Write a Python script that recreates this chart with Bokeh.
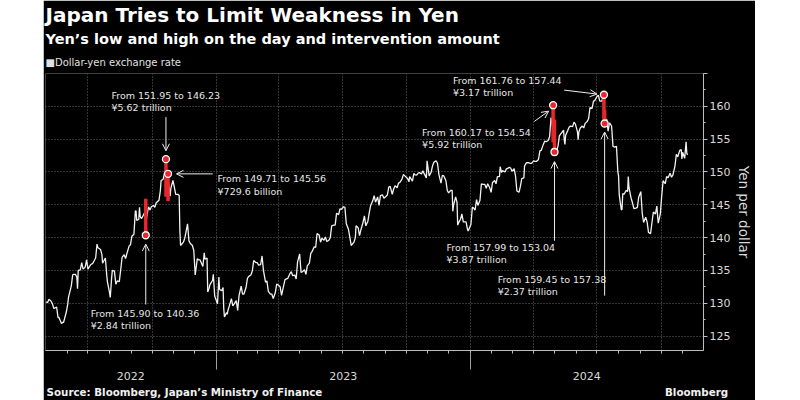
import pandas as pd
from bokeh.plotting import figure
from bokeh.models import (Range1d, FixedTicker, Label, Arrow, OpenHead, ColumnDataSource, Spacer,
                          LinearAxis, Title)
from bokeh.layouts import row
from bokeh.embed import file_html
from bokeh.resources import INLINE

# ---------------- data ----------------
series_2022 = [
    ("2022-05-02", 130.2), ("2022-05-04", 130.1), ("2022-05-06", 130.6), ("2022-05-09", 130.3),
    ("2022-05-11", 129.9), ("2022-05-13", 129.2), ("2022-05-17", 129.4), ("2022-05-19", 127.8),
    ("2022-05-20", 127.9), ("2022-05-24", 126.9), ("2022-05-26", 127.1), ("2022-05-27", 127.1),
    ("2022-05-31", 128.7), ("2022-06-02", 129.9), ("2022-06-03", 130.9), ("2022-06-07", 132.6),
    ("2022-06-09", 134.3), ("2022-06-10", 134.4), ("2022-06-13", 134.4), ("2022-06-15", 134.0),
    ("2022-06-16", 132.2), ("2022-06-17", 135.0), ("2022-06-20", 135.1), ("2022-06-22", 136.2),
    ("2022-06-24", 135.2), ("2022-06-27", 135.5), ("2022-06-29", 136.6), ("2022-07-01", 135.2),
    ("2022-07-05", 135.9), ("2022-07-07", 136.0), ("2022-07-08", 136.1), ("2022-07-12", 136.9),
    ("2022-07-14", 139.0), ("2022-07-15", 138.5), ("2022-07-19", 138.2), ("2022-07-21", 137.4),
    ("2022-07-22", 136.1), ("2022-07-26", 136.9), ("2022-07-28", 134.2), ("2022-07-29", 133.2),
    ("2022-08-01", 131.6), ("2022-08-02", 130.9), ("2022-08-04", 133.9), ("2022-08-05", 135.0),
    ("2022-08-08", 134.9), ("2022-08-10", 132.9), ("2022-08-12", 133.4), ("2022-08-15", 133.3),
    ("2022-08-17", 135.1), ("2022-08-19", 137.0), ("2022-08-22", 137.4), ("2022-08-24", 136.8),
    ("2022-08-26", 137.6), ("2022-08-29", 138.7), ("2022-08-31", 138.9), ("2022-09-02", 140.2),
    ("2022-09-05", 140.5), ("2022-09-07", 144.0), ("2022-09-08", 144.1), ("2022-09-09", 142.6),
    ("2022-09-12", 142.8), ("2022-09-13", 144.6), ("2022-09-14", 143.2), ("2022-09-16", 142.9),
    ("2022-09-20", 143.7), ("2022-09-21", 144.1), ("2022-09-22", 142.4), ("2022-09-26", 144.7),
    ("2022-09-28", 144.2), ("2022-09-30", 144.7), ("2022-10-03", 144.9), ("2022-10-05", 144.6),
    ("2022-10-07", 145.3), ("2022-10-11", 145.7), ("2022-10-13", 147.2), ("2022-10-14", 148.7),
    ("2022-10-17", 148.9), ("2022-10-19", 149.9), ("2022-10-20", 150.2), ("2022-10-21", 147.6),
    ("2022-10-24", 148.9), ("2022-10-25", 148.0), ("2022-10-27", 146.3), ("2022-10-28", 147.5),
    ("2022-10-31", 148.7), ("2022-11-02", 147.7), ("2022-11-04", 146.6), ("2022-11-07", 146.6),
    ("2022-11-09", 146.4), ("2022-11-10", 141.0), ("2022-11-11", 138.8), ("2022-11-15", 139.3),
    ("2022-11-17", 139.9), ("2022-11-18", 140.4), ("2022-11-21", 142.1), ("2022-11-23", 139.5),
    ("2022-11-25", 139.1), ("2022-11-28", 138.8), ("2022-11-30", 138.0), ("2022-12-02", 134.3),
    ("2022-12-05", 136.8), ("2022-12-07", 136.6), ("2022-12-09", 136.6), ("2022-12-13", 135.6),
    ("2022-12-15", 137.7), ("2022-12-16", 136.7), ("2022-12-19", 136.9), ("2022-12-20", 131.7),
    ("2022-12-22", 132.3), ("2022-12-23", 132.8), ("2022-12-27", 133.5), ("2022-12-28", 134.4),
    ("2022-12-30", 131.1),
]
series_2023 = [
    ("2023-01-03", 129.9), ("2023-01-05", 134.0), ("2023-01-06", 132.1), ("2023-01-09", 131.9),
    ("2023-01-11", 132.4), ("2023-01-12", 129.2), ("2023-01-13", 127.9), ("2023-01-16", 128.6),
    ("2023-01-17", 128.3), ("2023-01-18", 128.9), ("2023-01-20", 129.6), ("2023-01-23", 130.7),
    ("2023-01-25", 129.6), ("2023-01-27", 129.9), ("2023-01-30", 130.4), ("2023-02-01", 128.9),
    ("2023-02-03", 131.2), ("2023-02-06", 132.6), ("2023-02-08", 131.4), ("2023-02-10", 131.4),
    ("2023-02-13", 132.4), ("2023-02-15", 133.8), ("2023-02-17", 134.1), ("2023-02-20", 134.3),
    ("2023-02-22", 134.9), ("2023-02-24", 136.5), ("2023-02-27", 136.2), ("2023-03-01", 136.2),
    ("2023-03-03", 135.8), ("2023-03-06", 135.9), ("2023-03-08", 137.2), ("2023-03-10", 135.0),
    ("2023-03-13", 133.2), ("2023-03-15", 133.4), ("2023-03-17", 131.8), ("2023-03-20", 131.4),
    ("2023-03-22", 131.4), ("2023-03-24", 130.7), ("2023-03-27", 131.6), ("2023-03-29", 132.9),
    ("2023-03-31", 132.8), ("2023-04-03", 132.5), ("2023-04-05", 131.2), ("2023-04-07", 132.2),
    ("2023-04-10", 133.6), ("2023-04-12", 133.7), ("2023-04-14", 133.8), ("2023-04-17", 134.5),
    ("2023-04-19", 134.8), ("2023-04-21", 134.2), ("2023-04-24", 134.3), ("2023-04-26", 133.7),
    ("2023-04-28", 136.3), ("2023-05-01", 137.5), ("2023-05-03", 134.7), ("2023-05-05", 134.8),
    ("2023-05-08", 135.1), ("2023-05-10", 134.4), ("2023-05-12", 135.7), ("2023-05-15", 136.1),
    ("2023-05-17", 137.6), ("2023-05-19", 137.9), ("2023-05-22", 138.6), ("2023-05-24", 138.5),
    ("2023-05-26", 140.6), ("2023-05-29", 140.4), ("2023-05-31", 139.3), ("2023-06-02", 139.9),
    ("2023-06-05", 139.6), ("2023-06-07", 140.1), ("2023-06-09", 139.4), ("2023-06-12", 139.6),
    ("2023-06-14", 140.0), ("2023-06-16", 141.8), ("2023-06-19", 141.9), ("2023-06-21", 141.9),
    ("2023-06-23", 143.7), ("2023-06-26", 143.5), ("2023-06-28", 144.4), ("2023-06-30", 144.3),
    ("2023-07-03", 144.7), ("2023-07-05", 144.6), ("2023-07-07", 142.1), ("2023-07-10", 141.3),
    ("2023-07-12", 140.1), ("2023-07-14", 138.8), ("2023-07-18", 139.3), ("2023-07-20", 140.0),
    ("2023-07-21", 141.8), ("2023-07-24", 141.5), ("2023-07-26", 140.3), ("2023-07-28", 141.2),
    ("2023-07-31", 142.3), ("2023-08-02", 143.3), ("2023-08-04", 141.8), ("2023-08-07", 142.5),
    ("2023-08-09", 143.8), ("2023-08-11", 144.9), ("2023-08-14", 145.6), ("2023-08-16", 146.4),
    ("2023-08-18", 145.4), ("2023-08-21", 146.2), ("2023-08-23", 144.9), ("2023-08-25", 146.4),
    ("2023-08-28", 146.5), ("2023-08-30", 146.0), ("2023-09-01", 146.2), ("2023-09-04", 146.5),
    ("2023-09-06", 147.7), ("2023-09-08", 147.8), ("2023-09-11", 146.6), ("2023-09-13", 147.4),
    ("2023-09-15", 147.9), ("2023-09-18", 147.6), ("2023-09-20", 148.3), ("2023-09-22", 148.4),
    ("2023-09-25", 148.9), ("2023-09-27", 149.6), ("2023-09-29", 149.4), ("2023-10-03", 149.0),
    ("2023-10-05", 148.5), ("2023-10-06", 149.3), ("2023-10-10", 148.6), ("2023-10-12", 149.8),
    ("2023-10-13", 149.6), ("2023-10-16", 149.5), ("2023-10-18", 149.8), ("2023-10-20", 149.9),
    ("2023-10-23", 149.7), ("2023-10-25", 150.2), ("2023-10-27", 149.7), ("2023-10-30", 149.1),
    ("2023-10-31", 151.7), ("2023-11-01", 150.9), ("2023-11-03", 149.4), ("2023-11-06", 150.0),
    ("2023-11-08", 151.0), ("2023-11-10", 151.5), ("2023-11-13", 151.7), ("2023-11-15", 151.3),
    ("2023-11-17", 149.6), ("2023-11-20", 148.3), ("2023-11-22", 149.5), ("2023-11-24", 149.4),
    ("2023-11-27", 148.7), ("2023-11-29", 147.2), ("2023-12-01", 146.8), ("2023-12-04", 147.2),
    ("2023-12-06", 147.2), ("2023-12-07", 144.0), ("2023-12-08", 144.9), ("2023-12-11", 146.2),
    ("2023-12-13", 145.4), ("2023-12-14", 141.9), ("2023-12-15", 142.2), ("2023-12-18", 142.8),
    ("2023-12-20", 143.6), ("2023-12-22", 142.4), ("2023-12-26", 142.4), ("2023-12-28", 141.3),
    ("2023-12-29", 141.0),
]
series_2024 = [
    ("2024-01-02", 142.0), ("2024-01-04", 144.6), ("2024-01-05", 144.6), ("2024-01-08", 144.2),
    ("2024-01-10", 145.8), ("2024-01-12", 144.9), ("2024-01-15", 145.7), ("2024-01-17", 148.2),
    ("2024-01-19", 148.1), ("2024-01-22", 148.1), ("2024-01-24", 147.5), ("2024-01-26", 148.2),
    ("2024-01-29", 147.6), ("2024-01-31", 146.9), ("2024-02-02", 148.4), ("2024-02-05", 148.7),
    ("2024-02-07", 148.2), ("2024-02-09", 149.3), ("2024-02-12", 149.3), ("2024-02-13", 150.8),
    ("2024-02-15", 149.9), ("2024-02-16", 150.2), ("2024-02-20", 150.0), ("2024-02-22", 150.5),
    ("2024-02-23", 150.5), ("2024-02-26", 150.7), ("2024-02-28", 150.6), ("2024-03-01", 150.1),
    ("2024-03-04", 150.5), ("2024-03-06", 149.4), ("2024-03-08", 147.1), ("2024-03-11", 146.9),
    ("2024-03-13", 147.8), ("2024-03-15", 149.0), ("2024-03-18", 149.1), ("2024-03-19", 150.9),
    ("2024-03-21", 151.3), ("2024-03-22", 151.4), ("2024-03-25", 151.4), ("2024-03-27", 151.3),
    ("2024-03-29", 151.3), ("2024-04-01", 151.7), ("2024-04-03", 151.6), ("2024-04-05", 151.6),
    ("2024-04-08", 151.9), ("2024-04-10", 153.2), ("2024-04-12", 153.3), ("2024-04-15", 154.2),
    ("2024-04-17", 154.7), ("2024-04-19", 154.6), ("2024-04-22", 154.8), ("2024-04-24", 155.4),
    ("2024-04-26", 158.3), ("2024-04-29", 156.3), ("2024-04-30", 157.8), ("2024-05-01", 155.0),
    ("2024-05-02", 153.0), ("2024-05-03", 152.9), ("2024-05-06", 153.9), ("2024-05-08", 155.5),
    ("2024-05-10", 155.8), ("2024-05-13", 156.2), ("2024-05-14", 156.4), ("2024-05-15", 154.9),
    ("2024-05-16", 154.2), ("2024-05-17", 155.6), ("2024-05-20", 156.3), ("2024-05-22", 156.8),
    ("2024-05-24", 157.0), ("2024-05-27", 156.9), ("2024-05-29", 157.6), ("2024-05-31", 157.3),
    ("2024-06-03", 156.1), ("2024-06-04", 154.9), ("2024-06-05", 156.1), ("2024-06-07", 156.7),
    ("2024-06-10", 157.0), ("2024-06-12", 156.7), ("2024-06-14", 157.4), ("2024-06-17", 157.7),
    ("2024-06-19", 158.1), ("2024-06-21", 159.8), ("2024-06-24", 159.7), ("2024-06-26", 160.8),
    ("2024-06-28", 160.9), ("2024-07-01", 161.5), ("2024-07-03", 161.7), ("2024-07-05", 160.8),
    ("2024-07-08", 160.8), ("2024-07-10", 161.6), ("2024-07-11", 158.9), ("2024-07-12", 157.9),
    ("2024-07-15", 158.0), ("2024-07-17", 156.2), ("2024-07-19", 157.5), ("2024-07-22", 157.0),
    ("2024-07-24", 153.9), ("2024-07-26", 153.8), ("2024-07-29", 153.9), ("2024-07-31", 150.0),
    ("2024-08-01", 149.4), ("2024-08-02", 146.5), ("2024-08-05", 144.2), ("2024-08-06", 144.3),
    ("2024-08-07", 146.7), ("2024-08-09", 146.6), ("2024-08-12", 147.2), ("2024-08-14", 147.0),
    ("2024-08-15", 149.3), ("2024-08-16", 147.6), ("2024-08-19", 146.0), ("2024-08-21", 145.3),
    ("2024-08-23", 144.4), ("2024-08-26", 144.5), ("2024-08-28", 144.6), ("2024-08-30", 146.2),
    ("2024-09-02", 147.0), ("2024-09-04", 143.7), ("2024-09-06", 142.3), ("2024-09-09", 143.1),
    ("2024-09-11", 142.4), ("2024-09-13", 140.8), ("2024-09-16", 140.6), ("2024-09-18", 142.3),
    ("2024-09-20", 143.9), ("2024-09-23", 143.6), ("2024-09-25", 144.8), ("2024-09-27", 142.2),
    ("2024-09-30", 143.6), ("2024-10-02", 146.4), ("2024-10-04", 148.7), ("2024-10-07", 148.2),
    ("2024-10-09", 149.3), ("2024-10-11", 149.1), ("2024-10-14", 149.8), ("2024-10-16", 149.2),
    ("2024-10-18", 149.5), ("2024-10-21", 150.9), ("2024-10-23", 152.7), ("2024-10-25", 152.3),
    ("2024-10-28", 153.3), ("2024-10-30", 153.4), ("2024-10-31", 152.0), ("2024-11-01", 153.0),
    ("2024-11-04", 152.1), ("2024-11-06", 154.6), ("2024-11-07", 152.9), ("2024-11-08", 152.6),
]

int_dates = ["2022-09-22", "2022-10-21", "2022-10-24", "2024-04-29", "2024-05-01", "2024-07-11", "2024-07-12"]
int_from = [145.90, 151.95, 149.71, 160.17, 157.99, 161.76, 159.45]
int_to = [140.36, 146.23, 145.56, 154.54, 153.04, 157.44, 157.38]
int_amount = ["¥2.84 trillion", "¥5.62 trillion", "¥729.6 billion", "¥5.92 trillion",
              "¥3.87 trillion", "¥3.17 trillion", "¥2.37 trillion"]
int_marked = ["to", "from", "from", "from", "to", "from", "to"]

y_ticks = [125, 130, 135, 140, 145, 150, 155, 160, 165]
y_minor = [127.5, 132.5, 137.5, 142.5, 147.5, 152.5, 157.5, 162.5]
years = [2022, 2023, 2024]

TITLE = "Japan Tries to Limit Weakness in Yen"
SUBTITLE = "Yen\u2019s low and high on the day and intervention amount"
LEGEND = "\u25A0Dollar-yen exchange rate"
SOURCE = "Source: Bloomberg, Japan\u2019s Ministry of Finance"
BRAND = "Bloomberg"

# ---------------- layout / style ----------------
X_START = pd.Timestamp("2022-05-01")
X_END = pd.Timestamp("2024-12-01")
Y_MIN, Y_MAX = 122.8, 165.0
PAD_LEFT = 43
W, H = 712, 400
BL, BR, BT, BB = 2, 47, 73, 47
FW, FH = W - BL - BR, H - BT - BB
PX_PER_DAY = FW / (X_END - X_START).days
PX_PER_YEN = FH / (Y_MAX - Y_MIN)
DAY_MS = 86400000.0

WHITE = "#f2f2f2"
GREY = "#bdbdbd"
RED = "#e8262e"
FONT = "DejaVu Sans"


def ms(ts):
    return pd.Timestamp(ts).value / 1e6


def page_x_to_ms(px):
    return ms(X_START) + (px - PAD_LEFT - BL) / PX_PER_DAY * DAY_MS


all_series = series_2022 + series_2023 + series_2024
src = ColumnDataSource(dict(
    x=pd.to_datetime([d for d, _ in all_series]),
    y=[v for _, v in all_series],
))

p = figure(width=W, height=H, output_backend="svg", toolbar_location=None, title=None,
           x_axis_type="datetime",
           x_range=Range1d(ms(X_START), ms(X_END)), y_range=Range1d(Y_MIN, Y_MAX),
           y_axis_location="right",
           min_border_left=BL, min_border_right=BR, min_border_top=BT, min_border_bottom=BB,
           background_fill_color="black", border_fill_color="black",
           outline_line_color=None)

# --- bottom axis 1: the axis line with monthly ticks
month_ticks = [ms(t) for t in pd.date_range("2022-06-01", "2024-11-01", freq="MS")]
xa = p.xaxis[0]
xa.ticker = FixedTicker(ticks=[], minor_ticks=month_ticks)
xa.major_tick_out = 14
xa.major_tick_in = 0
xa.minor_tick_out = 3
xa.minor_tick_in = 0
xa.major_label_standoff = 0
xa.axis_line_color = GREY
xa.minor_tick_line_color = GREY
xa.major_tick_line_color = None

# --- bottom axis 2: year labels and year separators
year_mid = []
for yv in years:
    a = max(X_START, pd.Timestamp(f"{yv}-01-01"))
    b = min(X_END, pd.Timestamp(f"{yv + 1}-01-01"))
    year_mid.append((ms(a) + ms(b)) / 2)
year_sep = [ms(f"{yv}-01-01") for yv in years[1:]]
ax_years = LinearAxis(ticker=FixedTicker(ticks=year_mid, minor_ticks=year_sep),
                      major_label_overrides={m: str(yv) for m, yv in zip(year_mid, years)},
                      axis_line_color=None, major_tick_out=0, major_tick_in=0,
                      minor_tick_out=16, minor_tick_in=0, minor_tick_line_color="#a0a0a0",
                      minor_tick_line_width=1,
                      major_label_standoff=2, major_label_text_font=FONT,
                      major_label_text_font_size="11px", major_label_text_color="#d9d9d9")
p.add_layout(ax_years, "below")

# --- bottom axis 3: source / brand line
src_ticks = [page_x_to_ms(185), page_x_to_ms(701)]
ax_src = LinearAxis(ticker=FixedTicker(ticks=src_ticks),
                    major_label_overrides={src_ticks[0]: SOURCE, src_ticks[1]: BRAND},
                    axis_line_color=None, major_tick_out=0, major_tick_in=0,
                    major_tick_line_color=None,
                    major_label_standoff=3, major_label_text_font=FONT,
                    major_label_text_font_style="bold",
                    major_label_text_font_size="10.3px", major_label_text_color="#f0f0f0")
p.add_layout(ax_src, "below")

# --- right axis
ya = p.yaxis[0]
ya.ticker = FixedTicker(ticks=y_ticks, minor_ticks=y_minor)
ya.major_label_overrides = {165: ""}
ya.major_tick_out = 4
ya.major_tick_in = 0
ya.minor_tick_out = 2
ya.minor_tick_in = 0
ya.axis_line_color = GREY
ya.major_tick_line_color = GREY
ya.minor_tick_line_color = GREY
ya.major_label_text_color = "#d9d9d9"
ya.major_label_text_font = FONT
ya.major_label_text_font_size = "11px"
ya.major_label_standoff = 2
ya.axis_label = "Yen per dollar"
ya.axis_label_text_font = FONT
ya.axis_label_text_font_size = "13.5px"
ya.axis_label_text_font_style = "normal"
ya.axis_label_text_color = "#d9d9d9"
ya.axis_label_standoff = 3

p.xgrid.ticker = FixedTicker(ticks=[ms(t) for t in pd.date_range("2022-07-01", "2024-10-01", freq="QS")])
p.ygrid.ticker = FixedTicker(ticks=y_ticks)
for g in (p.xgrid, p.ygrid):
    g.grid_line_color = "#6a6a6a"
    g.grid_line_dash = "1 2"
    g.grid_line_width = 1

# --- titles (first added sits closest to the plot)
p.add_layout(Title(text=LEGEND, align="left", text_font=FONT, text_font_size="10px",
                   text_font_style="normal", text_color="#e0e0e0", standoff=11), "above")
p.add_layout(Title(text=SUBTITLE, align="left", text_font=FONT, text_font_size="14.5px",
                   text_font_style="bold", text_color="white", standoff=5), "above")
p.add_layout(Title(text=TITLE, align="left", text_font=FONT, text_font_size="20px",
                   text_font_style="bold", text_color="white", standoff=0), "above")

# --- series
p.line("x", "y", source=src, color=WHITE, line_width=1.3)

# --- intervention bars + markers
int_dt = pd.to_datetime(int_dates)
p.segment(x0=int_dt, y0=int_from, x1=int_dt, y1=int_to, color=RED, line_width=3.5)
mark_vals = [f if m == "from" else t for f, t, m in zip(int_from, int_to, int_marked)]
p.scatter(x=int_dt, y=mark_vals, marker="circle", size=7, line_color="white",
          line_width=1.3, fill_color=RED)

# annotation placement (pixel offsets from the marked point: right, down)
text_off = [(-55, 78), (-54.5, -63.5), (49.5, 5), (-131, 27), (-108, 95.5), (-151, -14), (-107, 156)]
arrow_head = [(0, 9), (0, -8.5), (8.5, 0), (-4.5, 6), (0, 9.7), (-7, -0.7), (0, 8.6)]
arrow_tail = [(0, 70), (0, -42.5), (45, 0), (-19, 16.4), (0, 89.7), (-40, -4.7), (0, 174)]
LINE_GAP = 12.2

for i, d in enumerate(int_dates):
    ax, ay = ms(d), mark_vals[i]
    dx, dy = text_off[i]
    p.add_layout(Label(x=ax, y=ay, x_offset=dx, y_offset=-dy,
                       text=f"From {int_from[i]:.2f} to {int_to[i]:.2f}",
                       text_font=FONT, text_font_size="9.5px", text_color="#e6e6e6",
                       text_baseline="middle", text_align="left"))
    p.add_layout(Label(x=ax, y=ay, x_offset=dx, y_offset=-(dy + LINE_GAP),
                       text=int_amount[i],
                       text_font=FONT, text_font_size="9.5px", text_color="#e6e6e6",
                       text_baseline="middle", text_align="left"))
    hx, hy = arrow_head[i]
    tx, ty = arrow_tail[i]
    p.add_layout(Arrow(end=OpenHead(size=7, line_color="#eeeeee", line_width=1),
                       x_start=ax + tx / PX_PER_DAY * DAY_MS, y_start=ay - ty / PX_PER_YEN,
                       x_end=ax + hx / PX_PER_DAY * DAY_MS, y_end=ay - hy / PX_PER_YEN,
                       line_color="#eeeeee", line_width=1))

layout = row(Spacer(width=PAD_LEFT, height=H), p)
open("out.html", "w").write(file_html(layout, INLINE))
